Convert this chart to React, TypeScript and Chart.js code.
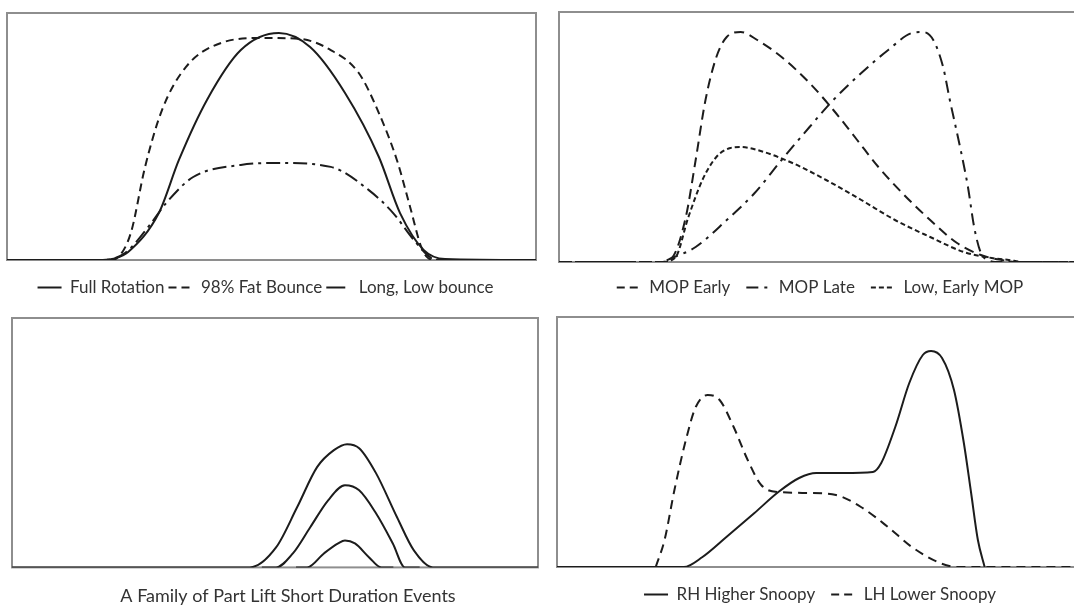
import React, { useEffect, useRef } from "react";
import { Chart, registerables } from "chart.js";

Chart.register(...registerables);

// ---------- Panel 1: rotation family ----------
const p1Labels = ["Full Rotation", "98% Fat Bounce", "Long, Low bounce"];
const fullRotationX = [0, 18.1, 20.4, 22.9, 28.7, 32.5, 37.8, 44.2, 51.4, 57.3, 63.9, 70.3, 74.3, 78.8, 82.8, 100];
const fullRotationY = [0, 0, 0.6, 3.2, 19.0, 40.5, 64.8, 85.0, 91.9, 86.2, 67.6, 41.7, 19.0, 4.0, 0.4, 0];
const fatBounceX = [0, 19.5, 20.8, 23.4, 26.1, 29.3, 33.8, 40.5, 48.2, 55.4, 61.2, 66.5, 70.3, 73.7, 76.2, 78.3, 79.6, 81.1, 100];
const fatBounceY = [0, 0, 0.8, 10.9, 37.7, 60.7, 78.1, 87.9, 89.9, 89.5, 85.0, 75.7, 59.5, 40.5, 21.5, 5.3, 0.8, 0, 0];
const longLowX = [0, 18.1, 22.3, 27.0, 30.1, 35.2, 44.2, 51.4, 61.2, 68.4, 73.0, 76.9, 80.2, 81.9, 100];
const longLowY = [0, 0, 2.8, 14.2, 23.1, 33.6, 38.5, 39.3, 37.7, 28.3, 19.0, 8.1, 0.8, 0, 0];

// ---------- Panel 2: MOP timing ----------
const p2Labels = ["MOP Early", "MOP Late", "Low, Early MOP"];
const mopEarlyX = [0, 19.5, 21.8, 24.5, 26.4, 28.3, 30.4, 32.4, 35.1, 38.3, 43.0, 48.4, 53.0, 57.6, 61.7, 66.3, 71.7, 76.9, 81.5, 85.5, 88.8, 102];
const mopEarlyY = [0, 0, 1.6, 18.0, 40.8, 64.8, 82.0, 90.0, 92.0, 88.8, 82.0, 71.6, 60.8, 48.8, 38.0, 27.6, 16.8, 7.6, 2.8, 0.8, 0, 0];
const mopLateX = [0, 19.5, 21.8, 26.4, 32.4, 37.8, 43.0, 48.4, 53.0, 58.4, 63.6, 68.2, 70.3, 72.3, 74.2, 75.5, 77.6, 79.0, 80.2, 81.5, 82.9, 84.2, 102];
const mopLateY = [0, 0, 1.6, 6.0, 16.8, 27.6, 40.8, 54.0, 64.8, 75.6, 84.8, 91.6, 92.0, 88.8, 78.0, 64.8, 44.8, 30.0, 14.0, 3.6, 0.8, 0, 0];
const lowEarlyX = [0, 19.5, 22.4, 25.0, 27.7, 30.4, 33.1, 35.1, 38.3, 45.1, 51.6, 58.4, 64.9, 71.7, 78.2, 83.6, 86.9, 89.8, 102];
const lowEarlyY = [0, 0, 1.6, 18.0, 32.8, 42.0, 45.6, 46.0, 44.8, 39.6, 32.8, 24.8, 16.8, 10.0, 4.0, 1.6, 0.8, 0, 0];

// ---------- Panel 3: part lift family ----------
const p3Title = "A Family of Part Lift Short Duration Events";
const liftLargeX = [0, 45.2, 50.2, 54.2, 58.0, 61.2, 63.7, 66.0, 69.2, 73.2, 76.4, 80.0, 100];
const liftLargeY = [0, 0, 8.0, 24.1, 40.2, 47.0, 49.4, 47.8, 37.8, 20.1, 6.8, 0, 0];
const liftMidX = [47.5, 50.2, 53.4, 56.7, 60.1, 63.3, 66.0, 69.2, 72.4, 74.7, 77.5];
const liftMidY = [0, 0, 5.6, 16.1, 26.9, 32.9, 30.9, 21.7, 9.6, 0, 0];
const liftSmallX = [54.0, 56.1, 59.3, 62.0, 63.3, 65.2, 67.9, 70.2, 72.5];
const liftSmallY = [0, 0, 5.6, 9.6, 10.8, 9.6, 4.0, 0, 0];

// ---------- Panel 4: snoopy ----------
const p4Labels = ["RH Higher Snoopy", "LH Lower Snoopy"];
const rhX = [0, 24.4, 28.0, 32.6, 38.0, 42.6, 46.6, 49.9, 55.1, 60.8, 62.4, 65.1, 67.8, 70.4, 72.0, 74.1, 76.4, 78.3, 79.7, 81.0, 82.3];
const rhY = [0, 0, 4.0, 12.0, 21.6, 30.0, 35.6, 37.6, 37.6, 38.0, 41.6, 56.0, 73.6, 84.8, 86.4, 83.6, 70.8, 49.6, 29.6, 10.8, 0];
const lhX = [19.0, 20.7, 22.6, 24.8, 26.7, 29.0, 31.3, 34.0, 36.7, 39.3, 42.6, 48.6, 53.7, 58.5, 63.7, 68.3, 73.7, 77.0, 102];
const lhY = [0, 10.8, 30.8, 50.8, 64.0, 68.8, 66.8, 56.0, 42.8, 32.8, 30.0, 29.6, 28.8, 24.0, 16.0, 8.0, 1.6, 0, 0];

const LINE = "#1c1c1c";
const TEXT = "#333333";
const FRAME = "#8e8e8e";
const FONT = "Lato, 'Open Sans', sans-serif";

const framePlugin = {
  id: "frame",
  beforeDatasetsDraw(chart: any) {
    const { ctx, chartArea: a } = chart;
    ctx.save();
    ctx.strokeStyle = FRAME;
    ctx.lineWidth = 2;
    ctx.strokeRect(a.left, a.top, a.right - a.left, a.bottom - a.top);
    ctx.restore();
  },
};

function series(label: string, xs: number[], ys: number[], dash: number[]) {
  return {
    label,
    data: xs.map((x, i) => ({ x, y: ys[i] })),
    borderColor: LINE,
    backgroundColor: LINE,
    borderWidth: 2,
    borderDash: dash,
    pointRadius: 0,
    cubicInterpolationMode: "monotone",
    fill: false,
  };
}

function spacer(position: string, size: number) {
  return {
    type: "linear",
    position,
    display: true,
    grid: { display: false },
    border: { display: false },
    ticks: { display: false },
    afterFit: (s: any) => {
      s.width = size;
    },
  };
}

function makeConfig(opts: {
  datasets: any[];
  padTop: number;
  sideL: number;
  sideR: number;
  gap: number;
  xMax: number;
  legendPad?: number;
  legendDashes?: number[][];
  title?: string;
}) {
  const { datasets, padTop, sideL, sideR, gap, xMax, legendPad, legendDashes, title } = opts;
  return {
    type: "line",
    data: { datasets },
    options: {
      animation: false,
      responsive: false,
      devicePixelRatio: 1,
      layout: { padding: { left: 0, right: 0, top: padTop, bottom: 0 } },
      events: [],
      scales: {
        x: {
          type: "linear",
          min: 0,
          max: xMax,
          display: true,
          grid: { display: false },
          border: { display: false },
          ticks: { display: false },
          afterFit: (s: any) => {
            s.height = gap;
          },
        },
        y: { type: "linear", min: 0, max: 100, display: false },
        padL: spacer("left", sideL),
        padR: spacer("right", sideR),
      },
      plugins: {
        tooltip: { enabled: false },
        legend: legendDashes
          ? {
              display: true,
              position: "bottom",
              labels: {
                usePointStyle: true,
                pointStyle: "line",
                pointStyleWidth: 24,
                padding: legendPad,
                color: TEXT,
                font: { family: FONT, size: 17 },
                generateLabels: (chart: any) => {
                  const items = (Chart.defaults.plugins.legend.labels as any).generateLabels(chart);
                  items.forEach((it: any, i: number) => {
                    it.lineDash = legendDashes[i];
                    it.lineWidth = 2;
                    it.strokeStyle = LINE;
                    it.pointStyle = "line";
                    it.fontColor = TEXT;
                  });
                  return items;
                },
              },
            }
          : { display: false },
        title: title
          ? {
              display: true,
              position: "bottom",
              text: title,
              color: TEXT,
              padding: 0,
              font: { family: FONT, size: 18, weight: "normal", lineHeight: 1.2 },
            }
          : { display: false },
      },
    },
    plugins: [framePlugin],
  };
}

function Panel(props: { left: number; top: number; width: number; height: number; config: any }) {
  const ref = useRef<HTMLCanvasElement>(null);
  useEffect(() => {
    const chart = new Chart(ref.current as HTMLCanvasElement, props.config);
    return () => chart.destroy();
  }, []);
  return (
    <canvas
      ref={ref}
      width={props.width}
      height={props.height}
      style={{ position: "absolute", left: props.left, top: props.top, width: props.width, height: props.height }}
    />
  );
}

// Panel 1: canvas -12..543, chart area 7..536, legend centred at 265.5
const config1 = makeConfig({
  datasets: [
    series(p1Labels[0], fullRotationX, fullRotationY, []),
    series(p1Labels[1], fatBounceX, fatBounceY, [8, 5]),
    series(p1Labels[2], longLowX, longLowY, [14, 5, 3, 5]),
  ],
  padTop: 13,
  sideL: 19,
  sideR: 7,
  gap: 15,
  xMax: 100,
  legendPad: 4,
  legendDashes: [[], [8, 5], [19, 40]],
});

// Panel 2: canvas 550..1090, chart area 559..1087
const config2 = makeConfig({
  datasets: [
    series(p2Labels[0], mopEarlyX, mopEarlyY, [10, 6]),
    series(p2Labels[1], mopLateX, mopLateY, [12, 6, 3, 6]),
    series(p2Labels[2], lowEarlyX, lowEarlyY, [5, 3]),
  ],
  padTop: 12,
  sideL: 9,
  sideR: 3,
  gap: 1,
  xMax: 102,
  legendPad: 16,
  legendDashes: [[8, 5], [12, 6, 3, 6], [5, 3]],
});

// Panel 3: canvas 0..576, chart area 12..538, title centred at 288
const config3 = makeConfig({
  datasets: [
    series("Large", liftLargeX, liftLargeY, []),
    series("Medium", liftMidX, liftMidY, []),
    series("Small", liftSmallX, liftSmallY, []),
  ],
  padTop: 18,
  sideL: 12,
  sideR: 38,
  gap: 18,
  xMax: 100,
  title: p3Title,
});

// Panel 4: canvas 550..1090, chart area 557..1087
const config4 = makeConfig({
  datasets: [
    series(p4Labels[0], rhX, rhY, []),
    series(p4Labels[1], lhX, lhY, [9, 6]),
  ],
  padTop: 17,
  sideL: 7,
  sideR: 3,
  gap: 3,
  xMax: 102,
  legendPad: 16,
  legendDashes: [[], [8, 5]],
});

export default function App() {
  return (
    <div
      style={{
        position: "absolute",
        left: 0,
        top: 0,
        width: 1074,
        height: 605,
        overflow: "hidden",
        background: "#ffffff",
      }}
    >
      <Panel left={-12} top={0} width={555} height={306} config={config1} />
      <Panel left={550} top={0} width={540} height={306} config={config2} />
      <Panel left={0} top={300} width={576} height={307} config={config3} />
      <Panel left={550} top={300} width={540} height={313} config={config4} />
    </div>
  );
}
